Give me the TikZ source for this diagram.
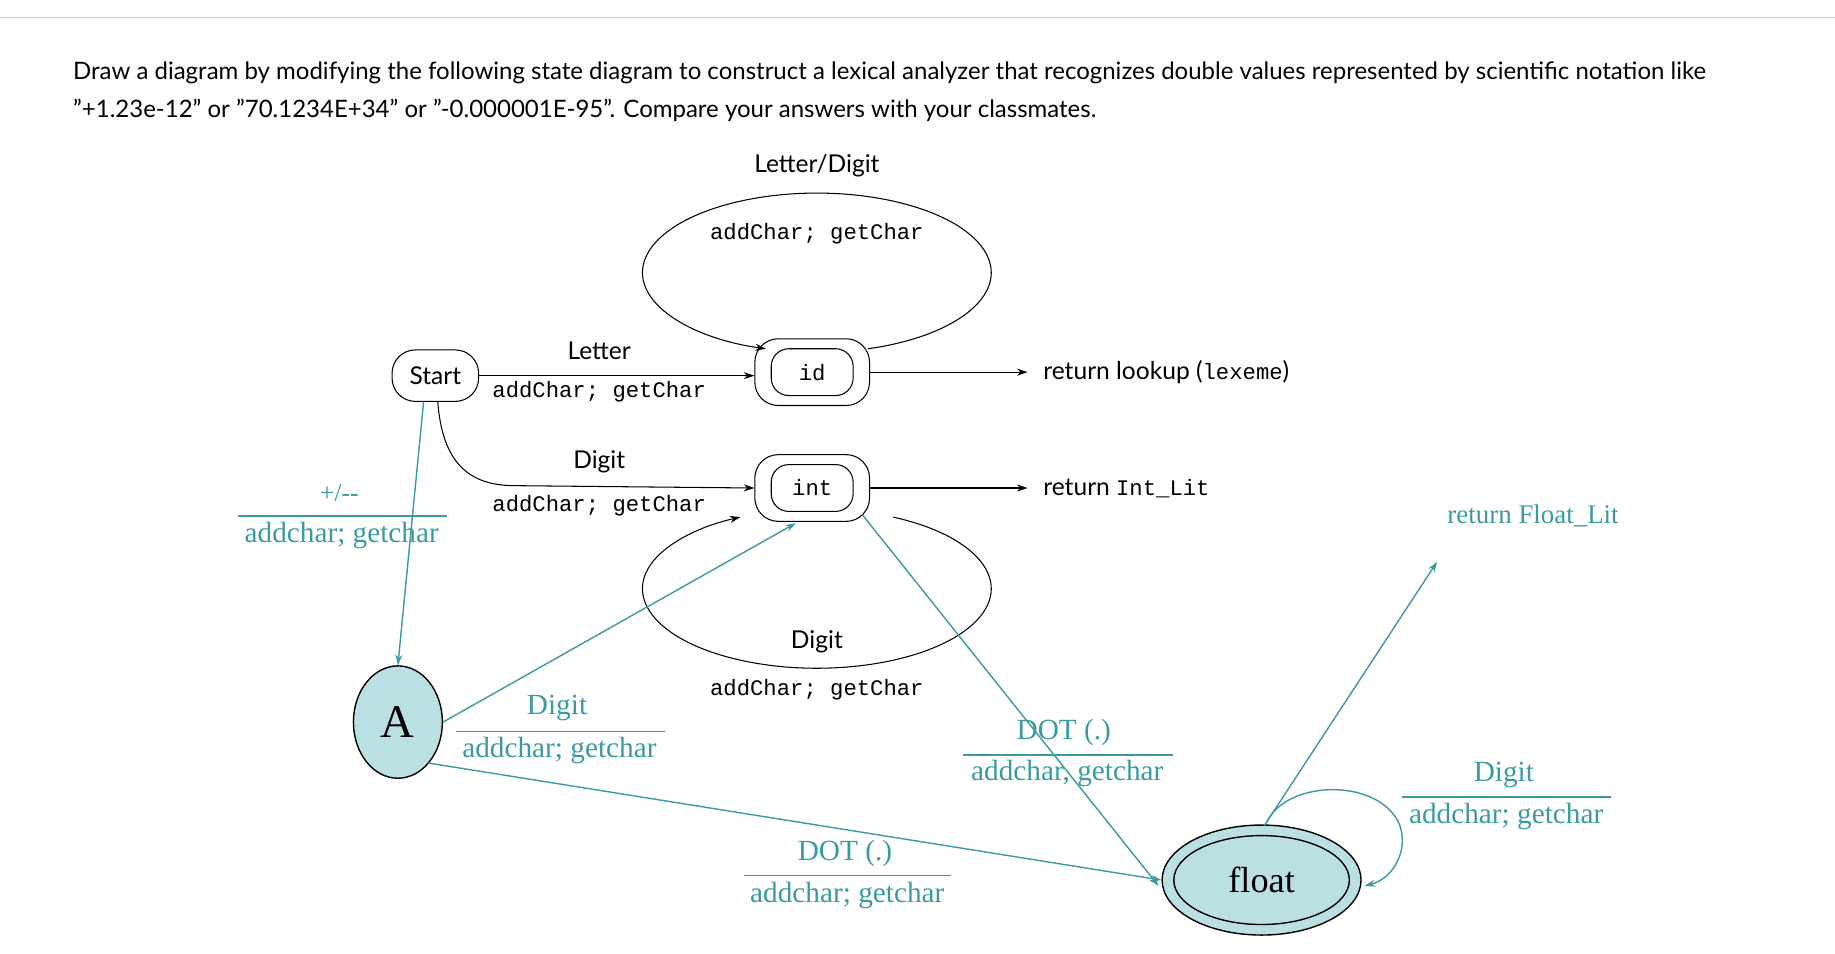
\documentclass[tikz,border=0pt]{standalone}
\usepackage{fontspec}
\setmainfont{Lato}
\newfontfamily\serifT{Liberation Serif}
\newfontfamily\monoT{Liberation Mono}
\usetikzlibrary{arrows.meta,shapes.geometric}
\definecolor{teal}{HTML}{3A9AA0}
\definecolor{lteal}{HTML}{BAE0E3}
\begin{document}
\begin{tikzpicture}[x=1pt,y=1pt,
 blk/.style={draw=black,line width=0.9pt,-{Stealth[length=9pt,width=6pt]}},
 tl/.style={draw=teal,line width=1.2pt,-{Stealth[length=9pt,width=6pt]}},
 sans/.style={font=\fontsize{21}{24}\selectfont},
 mono/.style={font=\monoT\fontsize{19}{22}\selectfont},
 ser/.style={text=teal,font=\serifT\fontsize{25}{28}\selectfont},
 acc/.style={draw,rounded corners=20pt,minimum width=98pt,minimum height=57pt,line width=0.9pt},
 inn/.style={draw,rounded corners=15pt,minimum width=70pt,minimum height=40pt,line width=0.9pt,mono}]
\useasboundingbox (0,0) rectangle (1568,815);
\draw[gray!40,line width=1pt] (0,800) -- (1568,800);
\node[anchor=west,font=\fontsize{20.5}{24}\selectfont] (t1) at (59,753) {Draw a diagram by modifying the following state diagram to construct a lexical analyzer that recognizes double values represented by scientific notation like};
\node[anchor=west,font=\fontsize{20.5}{24}\selectfont] (t2) at (59,721) {"+1.23e-12" or "70.1234E+34" or "-0.000001E-95". Compare your answers with your classmates.};
% states
\node[draw,rounded corners=20pt,minimum width=74pt,minimum height=44pt,line width=0.9pt,sans] (start) at (372,494) {Start};
\node[acc] (id) at (694,497) {};
\node[inn] (idi) at (694,497) {id};
\node[acc] (int) at (694,398) {};
\node[inn] (inti) at (694,398) {int};
\node[ellipse,draw,fill=lteal,line width=1.2pt,minimum width=76pt,minimum height=96pt,inner sep=0pt,font=\serifT\fontsize{40}{44}\selectfont] (A) at (340,198) {A};
\node[ellipse,draw,fill=lteal,line width=1.2pt,minimum width=170pt,minimum height=94pt] (float) at (1078,63) {};
\node[ellipse,draw,line width=1.2pt,minimum width=150pt,minimum height=76pt,font=\serifT\fontsize{31}{34}\selectfont] (floati) at (1078,63) {float};
% black edges
\node[sans] (ld) at (698,673) {Letter/Digit};
\node[mono] (lda) at (698,615) {addChar; getChar};
\draw[blk] ([shift={(-73:149 and 68)}]698,582) arc[start angle=-73,end angle=253,x radius=149,y radius=68];
\draw[blk] (start.east) -- (id.west |- start.east) coordinate (e1);
\node[sans] (lt) at (512,515) {Letter};
\node[mono] (lta) at (512,480) {addChar; getChar};
\coordinate (r1) at (878,497);
\draw[blk] (id.east) -- (r1);
\node[anchor=west,sans] (rl) at (888,497) {return lookup ({\monoT\fontsize{19}{22}\selectfont lexeme})};
\draw[blk] (374,472) .. controls (378,420) and (400,400) .. (440,400) -- (int.west);
\node[sans] (dg) at (512,420) {Digit};
\node[mono] (dga) at (512,383) {addChar; getChar};
\coordinate (r2) at (878,398);
\draw[blk] (int.east) -- (r2);
\node[anchor=west,sans] (ri) at (888,398) {return {\monoT\fontsize{19}{22}\selectfont Int\_Lit}};
\draw[blk] ([shift={(64:149 and 68)}]698,312) arc[start angle=64,end angle=-244,x radius=149,y radius=68];
\node[sans] (dg2) at (698,267) {Digit};
\node[mono] (dg2a) at (698,226) {addChar; getChar};
% teal edges
\draw[tl] (362,472) -- (A.north);
\node[ser,font=\serifT\fontsize{22}{24}\selectfont] (pm) at (290,394) {+/--};
\draw[teal,line width=1.2pt] (203,374) -- (382,374);
\node[ser] (pma) at (292,357) {addchar; getchar};
\draw[tl] (A.east) -- (680,368);
\node[ser] (ad) at (476,210) {Digit};
\draw[teal,line width=1.2pt] (390,190) -- (568,190);
\node[ser] (ada) at (478,174) {addchar; getchar};
\draw[tl] (366,163) -- (float.west);
\node[ser] (ad2) at (722,86) {DOT (.)};
\draw[teal,line width=1.2pt] (636,67) -- (813,67);
\node[ser] (ad2a) at (724,50) {addchar; getchar};
\draw[tl] (737,375) -- (990,58);
\node[ser] (id2) at (909,189) {DOT (.)};
\draw[teal,line width=1.2pt] (823,170) -- (1002,170);
\node[ser] (id2a) at (912,154) {addchar, getchar};
\coordinate (fr) at (1228,335);
\draw[tl] (1080,109) -- (fr);
\node[ser,font=\serifT\fontsize{23}{26}\selectfont] (rf) at (1310,374) {return Float\_Lit};
\draw[tl] (1082,112) .. controls (1100,150) and (1180,150) .. (1196,110) .. controls (1204,88) and (1190,64) .. (1166,58);
\node[ser] (fd) at (1285,153) {Digit};
\draw[teal,line width=1.2pt] (1198,134) -- (1377,134);
\node[ser] (fda) at (1287,117) {addchar; getchar};
\end{tikzpicture}
\end{document}
